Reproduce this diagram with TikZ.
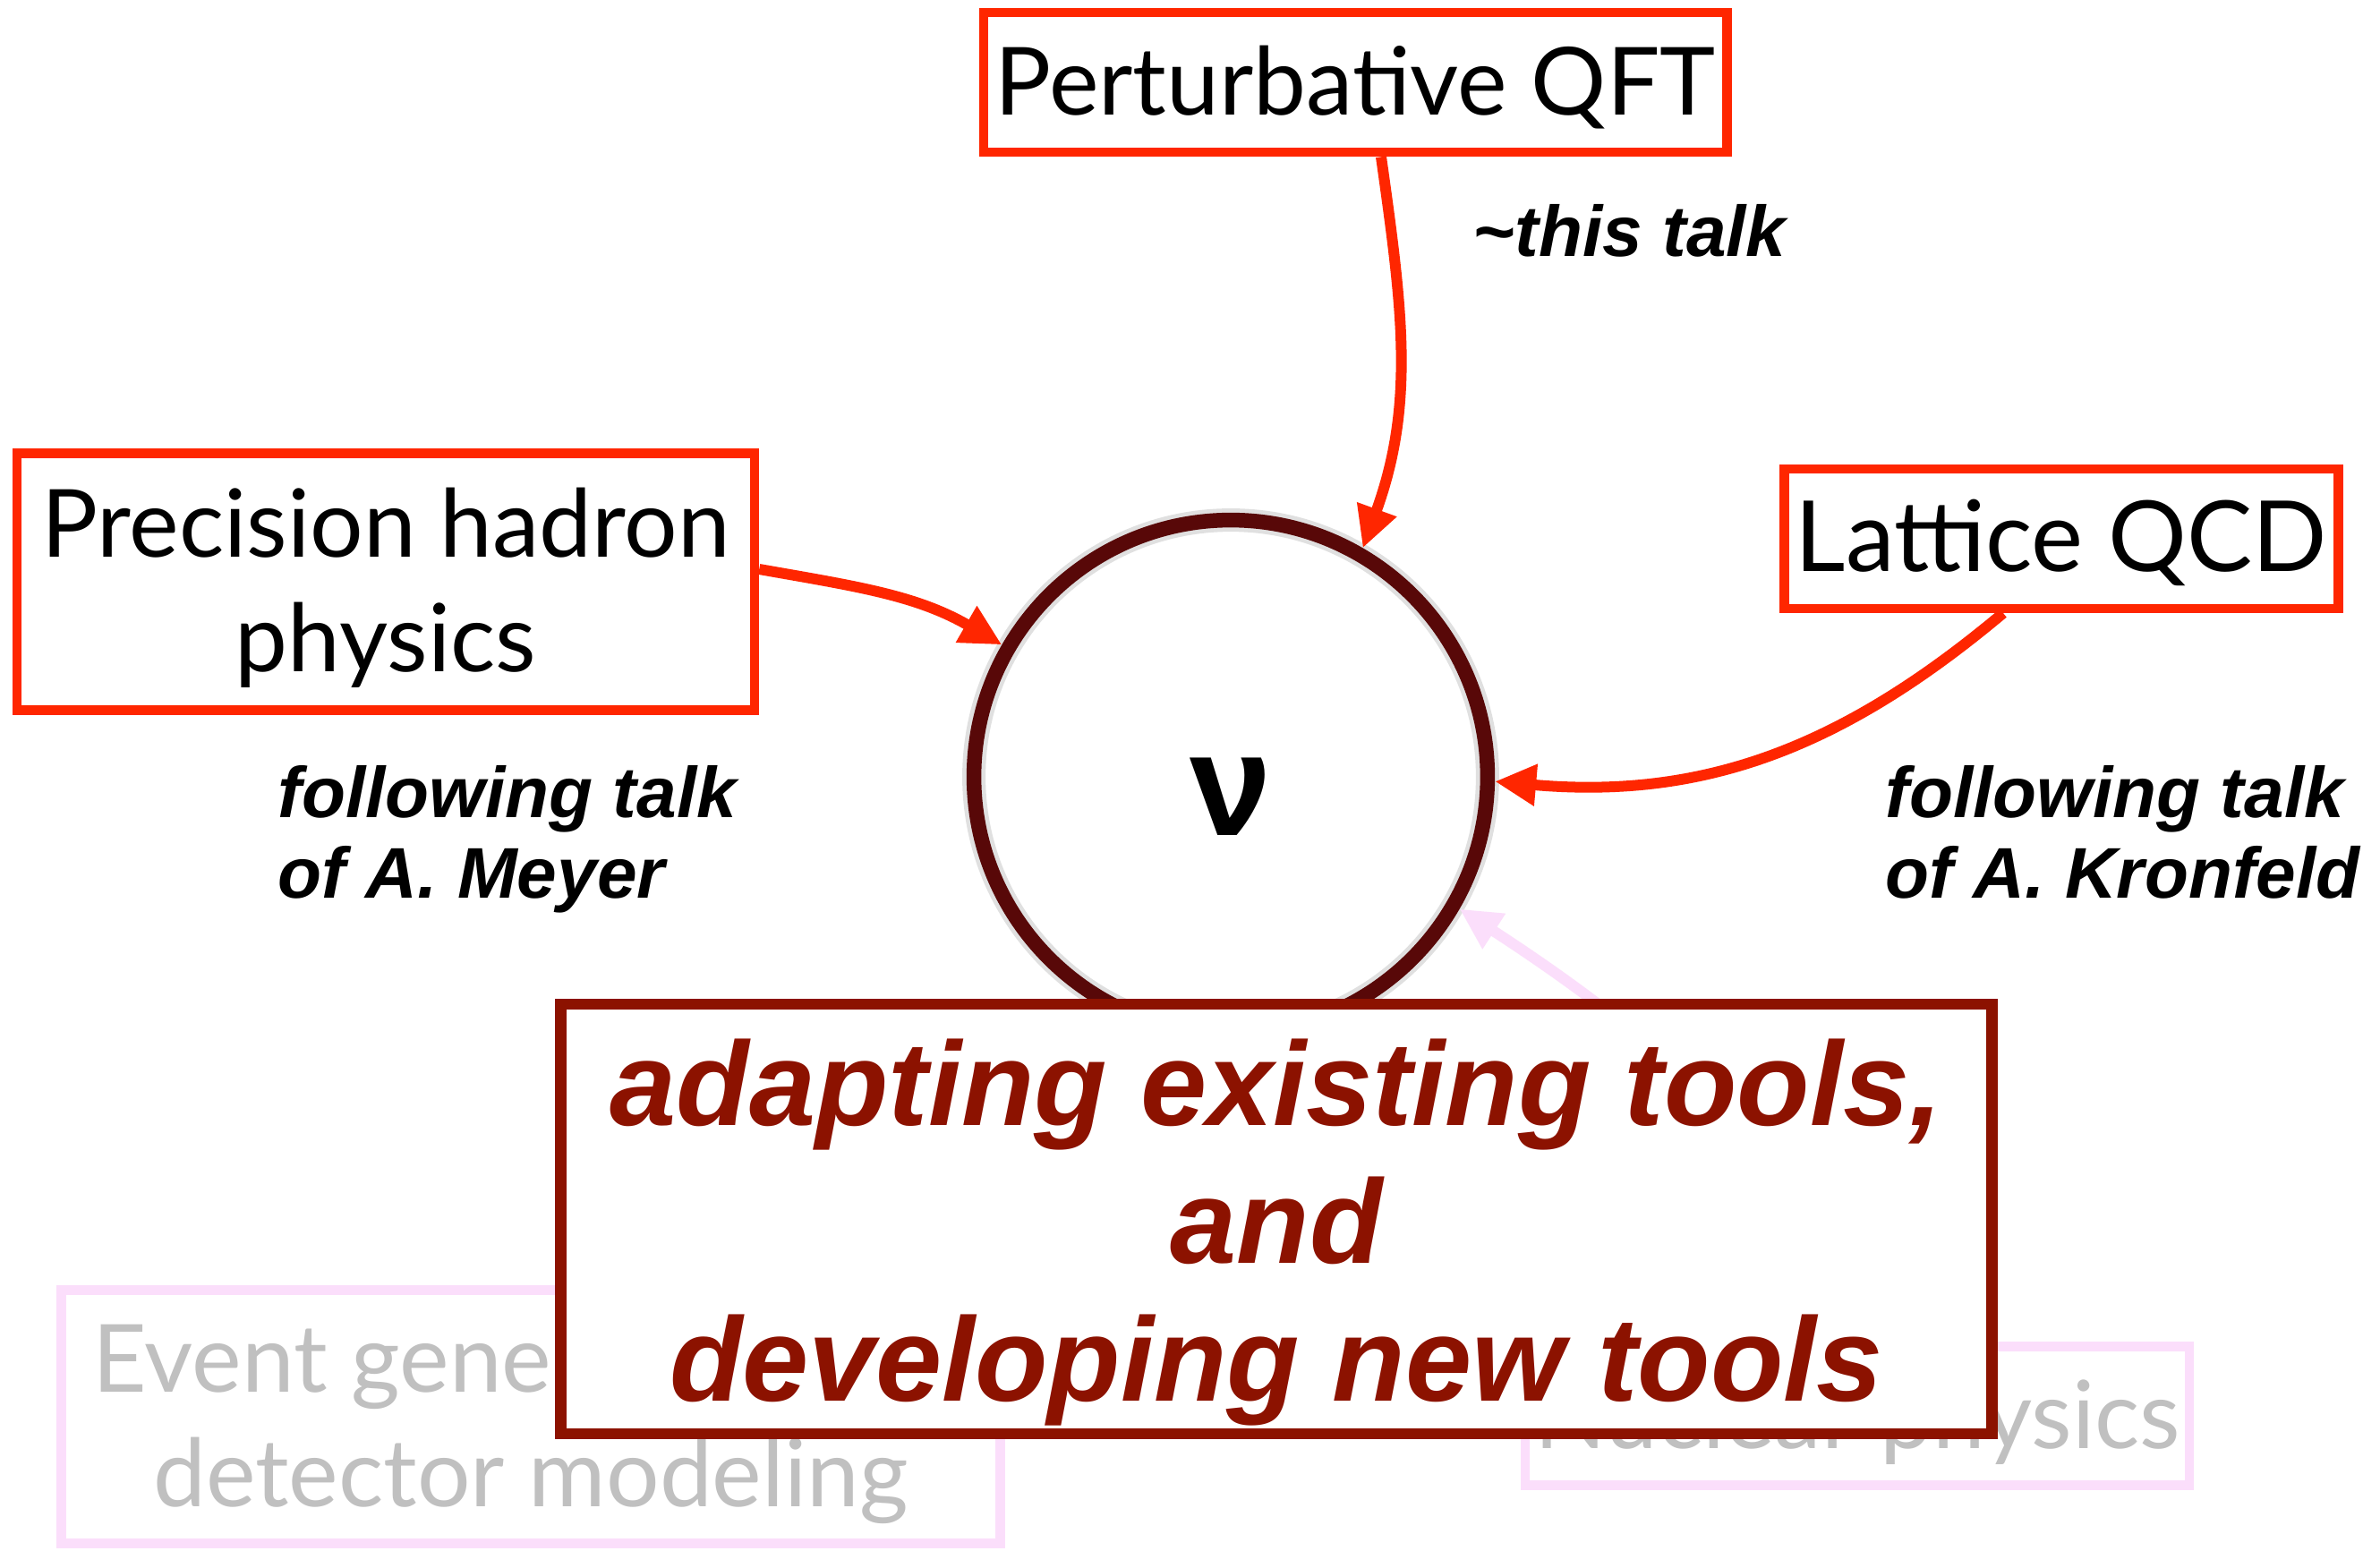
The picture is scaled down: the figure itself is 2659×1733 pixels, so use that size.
\documentclass[tikz,border=0pt]{standalone}
\usepackage{fontspec}
\setmainfont{Lato}
\newfontfamily\talkfont{Liberation Sans}
\usetikzlibrary{arrows.meta}

\definecolor{boxred}{RGB}{255,38,0}
\definecolor{ringred}{RGB}{88,8,8}
\definecolor{toolred}{RGB}{140,18,0}
\definecolor{palepink}{RGB}{251,222,251}
\definecolor{palegray}{RGB}{192,192,192}

% set a (possibly multi-line) topic text slightly lower, keeping its box size
\newcommand{\topictext}[1]{\raisebox{-0.11cm}[\height][\depth]{%
  \begin{tabular}{@{}c@{}}#1\end{tabular}}}

\tikzset{
  topic/.style={draw=boxred, line width=0.105cm, fill=white,
    inner sep=0pt, font=\fontsize{29.9}{36.5}\selectfont},
  fadedtopic/.style={draw=palepink, line width=0.105cm, text=palegray,
    inner sep=0pt, font=\fontsize{29.9}{36.5}\selectfont},
  feed/.style={draw=boxred, line width=0.12cm,
    -{Triangle[length=0.46cm,width=0.44cm]}},
  palefeed/.style={draw=palepink, line width=0.12cm,
    -{Triangle[length=0.46cm,width=0.44cm]}},
  talknote/.style={font=\talkfont\bfseries\itshape\fontsize{22.8}{25.6}\selectfont,
    align=left, inner sep=0pt},
  toolbox/.style={draw=toolred, line width=0.125cm, fill=white, inner sep=0pt},
  tooltext/.style={text=toolred, align=center, inner sep=0pt,
    font=\talkfont\bfseries\itshape\fontsize{37.9}{43.7}\selectfont},
  ring/.style={circle, draw=ringred, line width=0.165cm, inner sep=0pt},
  ringshade/.style={circle, draw=black, draw opacity=0.12, line width=0.26cm, inner sep=0pt}
}

\begin{document}
\begin{tikzpicture}[x=0.01cm, y=-0.01cm]
  \fill[white] (0,0) rectangle (2659,1733);
  \useasboundingbox (0,0) rectangle (2659,1733);

  % faded topics in the background
  \node[fadedtopic, minimum width=10.48cm, minimum height=2.83cm] (evt) at (593,1583)
    {\topictext{Event generators and\\detector modeling}};
  \node[fadedtopic, minimum width=7.42cm, minimum height=1.55cm] (nuc) at (2075,1582)
    {\topictext{Nuclear physics}};

  % the neutrino circle with a soft rim
  \node[ringshade, minimum size=5.735cm] (nushade) at (1375,868) {};
  \node[ring, minimum size=5.735cm] (nu) at (1375,868) {};
  \draw[palefeed] ([xshift=0.75cm]nuc.north) to[out=128, in=-33] (nu.-30);
  \node[inner sep=0pt, font=\talkfont\bfseries\fontsize{46.6}{50}\selectfont]
    (nusym) at (1375,890) {ν};

  % main topics
  \node[topic, minimum width=8.30cm, minimum height=1.56cm] (qft) at (1514,92)
    {\topictext{Perturbative QFT}};
  \node[topic, minimum width=8.235cm, minimum height=2.865cm] (prec) at (431,650)
    {\topictext{Precision hadron\\physics}};
  \node[topic, minimum width=6.185cm, minimum height=1.555cm,
    font=\fontsize{31.2}{36.5}\selectfont] (lat) at (2303,602)
    {\topictext{Lattice QCD}};

  % feeds into the circle
  \draw[feed] ([xshift=0.29cm]qft.south) to[out=-82, in=70] (nu.60);
  \draw[feed] ([yshift=0.14cm]prec.east) to[out=-10, in=150] (nu.150);
  \draw[feed] ([xshift=-0.65cm]lat.south) to[out=-140, in=-5] (nu.-1);

  % talk notes
  \node[talknote, anchor=west] (thistalk) at (1645,258) {\textasciitilde this talk};
  \node[talknote, anchor=north west] (meyer) at (310,855) {following talk\\of A. Meyer};
  \node[talknote, anchor=north west] (kronfeld) at (2106,855) {following talk\\of A. Kronfeld};

  % tools box on top
  \node[toolbox, minimum width=15.985cm, minimum height=4.795cm] (tools) at (1426,1362) {};
  \node[tooltext] (toolslabel) at ([yshift=-0.15cm]tools.center)
    {adapting existing tools,\\and\\developing new tools};
\end{tikzpicture}
\end{document}
